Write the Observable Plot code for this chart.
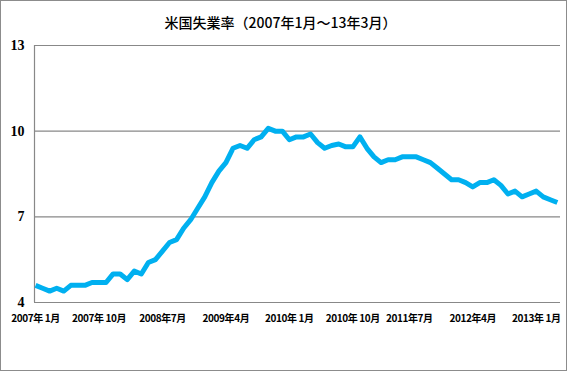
<!DOCTYPE html>
<html>
<head>
<meta charset="utf-8">
<script src="https://cdn.jsdelivr.net/npm/d3@7"></script>
<script src="https://cdn.jsdelivr.net/npm/@observablehq/plot@0.6"></script>
<style>
  html, body { margin: 0; padding: 0; background: #fff; }
  #wrap { position: relative; width: 567px; height: 371px; }
  #wrap svg { position: absolute; left: 0; top: 0; outline: 1px solid #8c8c8c; outline-offset: -1px; }
  #wrap svg g[aria-label="x-axis tick label"] text { letter-spacing: -0.4px; }
  #title { position: absolute; left: 0; width: 561px; top: 14px; line-height: 16px; text-align: center;
           font-family: "Noto Sans CJK JP", sans-serif; font-size: 14px; font-weight: 500; color: #000; z-index: 2; }
</style>
</head>
<body>
<div id="wrap"><div id="title">米国失業率（2007年1月～13年3月）</div></div>
<script>
// Monthly US unemployment rate, Jan 2007 – Mar 2013 (%)
const rate2007 = [4.6, 4.5, 4.4, 4.5, 4.4, 4.6, 4.6, 4.6, 4.7, 4.7, 4.7, 5.0];
const rate2008 = [5.0, 4.8, 5.1, 5.0, 5.4, 5.5, 5.8, 6.1, 6.2, 6.6, 6.9, 7.3];
const rate2009 = [7.7, 8.2, 8.6, 8.9, 9.4, 9.5, 9.4, 9.7, 9.8, 10.1, 10.0, 10.0];
const rate2010 = [9.7, 9.8, 9.8, 9.9, 9.6, 9.4, 9.5, 9.55, 9.45, 9.45, 9.8, 9.4];
const rate2011 = [9.1, 8.9, 9.0, 9.0, 9.1, 9.1, 9.1, 9.0, 8.9, 8.7, 8.5, 8.3];
const rate2012 = [8.3, 8.2, 8.05, 8.2, 8.2, 8.3, 8.1, 7.8, 7.9, 7.7, 7.8, 7.9];
const rate2013 = [7.7, 7.6, 7.5];

const tickIndex = [0, 9, 18, 27, 36, 45, 54, 63, 72];
const tickLabels = ["2007年 1月", "2007年 10月", "2008年7月", "2009年4月", "2010年 1月",
                    "2010年 10月", "2011年7月", "2012年4月", "2013年 1月"];
const yTicks = [4, 7, 10, 13];

const values = [...rate2007, ...rate2008, ...rate2009, ...rate2010, ...rate2011, ...rate2012, ...rate2013];
const data = values.map((v, i) => ({i, v}));
const labelOf = new Map(tickIndex.map((t, k) => [t, tickLabels[k]]));

const xFont = {fontFamily: "'Noto Sans CJK JP', sans-serif", fontWeight: "bold", fontSize: 10};

const chart = Plot.plot({
  width: 567,
  height: 371,
  marginLeft: 34,
  marginRight: 7,
  marginTop: 45,
  marginBottom: 69,
  style: {background: "transparent", color: "#000"},
  x: {domain: [-0.15, 74.45]},
  y: {domain: [4, 13]},
  marks: [
    Plot.gridY([7, 10, 13], {stroke: "#888", strokeOpacity: 1, strokeWidth: 1.2}),
    Plot.ruleY([4], {stroke: "#888", strokeWidth: 1.2}),
    Plot.ruleX([-0.15], {y1: 4, y2: 13, stroke: "#888", strokeWidth: 1.2}),
    Plot.line(data, {x: "i", y: "v", stroke: "#00B0F0", strokeWidth: 5, strokeLinejoin: "round", strokeLinecap: "butt"}),
    Plot.axisY(yTicks, {tickSize: 0, tickPadding: 10, fontFamily: "'Liberation Serif', serif", fontWeight: "bold", fontSize: 14, label: null}),
    Plot.axisX(tickIndex.slice(0, 6), {tickSize: 0, tickPadding: 12, tickFormat: d => labelOf.get(d), label: null, ...xFont}),
    Plot.axisX(tickIndex.slice(6), {tickSize: 0, tickPadding: 12, dx: -7, tickFormat: d => labelOf.get(d), label: null, ...xFont})
  ]
});
document.getElementById("wrap").appendChild(chart);
</script>
</body>
</html>
